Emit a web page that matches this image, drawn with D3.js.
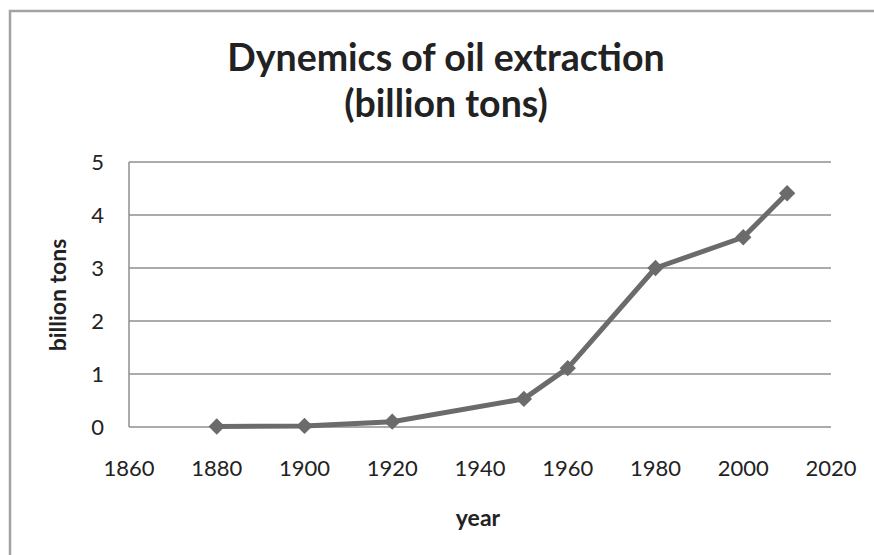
<!DOCTYPE html>
<html>
<head>
<meta charset="utf-8">
<script src="https://cdn.jsdelivr.net/npm/d3@7"></script>
<style>
  body { margin: 0; background: #fff; }
  svg text { font-family: Lato, "Open Sans", sans-serif; fill: #222; }
</style>
</head>
<body>
<svg width="874" height="555"></svg>
<script>
// data
const years = [1880, 1900, 1920, 1950, 1960, 1980, 2000, 2010];
const oil = [0.01, 0.02, 0.1, 0.53, 1.11, 3.0, 3.58, 4.41];
const xTicks = [1860, 1880, 1900, 1920, 1940, 1960, 1980, 2000, 2020];
const yTicks = [0, 1, 2, 3, 4, 5];
const titleLines = ["Dynemics of oil extraction", "(billion tons)"];

const svg = d3.select("svg");

// outer frame (runs off right and bottom)
svg.append("rect")
  .attr("x", 10).attr("y", 11)
  .attr("width", 900).attr("height", 600)
  .attr("fill", "none")
  .attr("stroke", "#a3a3a3")
  .attr("stroke-width", 2.5);

const x = d3.scaleLinear().domain([1860, 2020]).range([129, 831]);
const y = d3.scaleLinear().domain([0, 5]).range([427, 162]);

// gridlines
svg.append("g")
  .selectAll("line")
  .data(yTicks)
  .enter()
  .append("line")
  .attr("x1", x(1860)).attr("x2", x(2020))
  .attr("y1", d => y(d)).attr("y2", d => y(d))
  .attr("stroke", "#8f8f8f")
  .attr("stroke-width", 1.5);

// left axis line
svg.append("line")
  .attr("x1", x(1860)).attr("x2", x(1860))
  .attr("y1", y(5)).attr("y2", y(0))
  .attr("stroke", "#8f8f8f")
  .attr("stroke-width", 1.5);

// y tick labels
svg.append("g")
  .selectAll("text")
  .data(yTicks)
  .enter()
  .append("text")
  .attr("x", 104)
  .attr("y", d => y(d))
  .attr("dy", "0.36em")
  .attr("text-anchor", "end")
  .style("font-size", "22px")
  .text(d => d);

// x tick labels
svg.append("g")
  .selectAll("text")
  .data(xTicks)
  .enter()
  .append("text")
  .attr("x", d => x(d))
  .attr("y", 468)
  .attr("dy", "0.36em")
  .attr("text-anchor", "middle")
  .style("font-size", "22px")
  .text(d => d);

// the series
const pts = years.map((yr, i) => [yr, oil[i]]);
const line = d3.line().x(d => x(d[0])).y(d => y(d[1]));

svg.append("path")
  .datum(pts)
  .attr("d", line)
  .attr("fill", "none")
  .attr("stroke", "#6b6b6b")
  .attr("stroke-width", 5)
  .attr("stroke-linejoin", "round");

svg.append("g")
  .selectAll("path")
  .data(pts)
  .enter()
  .append("path")
  .attr("transform", d => `translate(${x(d[0])},${y(d[1])})`)
  .attr("d", d3.symbol().type(d3.symbolDiamond2).size(170))
  .attr("fill", "#6b6b6b");

// title
svg.append("g")
  .selectAll("text")
  .data(titleLines)
  .enter()
  .append("text")
  .attr("x", 446)
  .attr("y", (d, i) => 58 + i * 46)
  .attr("dy", "0.35em")
  .attr("text-anchor", "middle")
  .style("font-size", "37.5px")
  .style("font-weight", "bold")
  .text(d => d);

// axis titles
svg.append("text")
  .attr("x", 478).attr("y", 518)
  .attr("dy", "0.35em")
  .attr("text-anchor", "middle")
  .style("font-size", "23px")
  .style("font-weight", "bold")
  .text("year");

svg.append("text")
  .attr("transform", "translate(58,295) rotate(-90)")
  .attr("dy", "0.35em")
  .attr("text-anchor", "middle")
  .style("font-size", "23px")
  .style("font-weight", "bold")
  .text("billion tons");
</script>
</body>
</html>
